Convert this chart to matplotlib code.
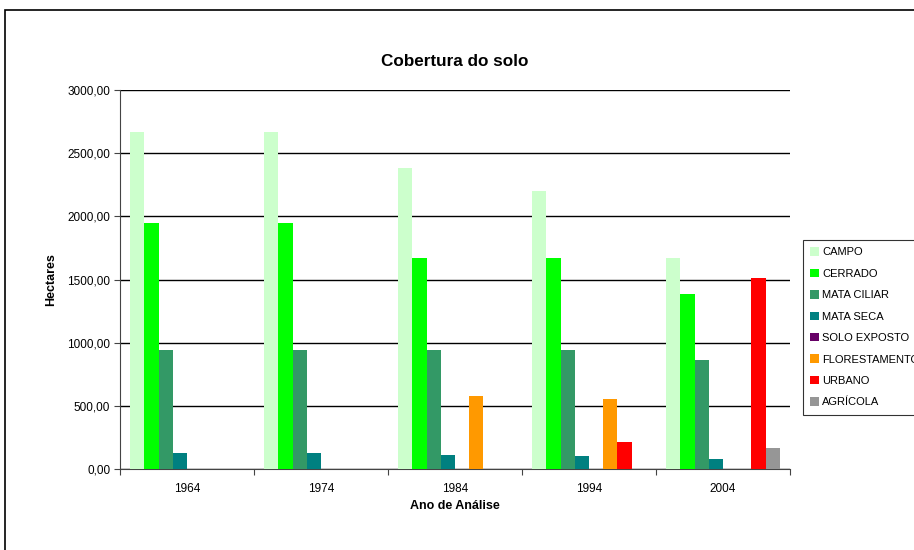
import numpy as np
import matplotlib
matplotlib.use("Agg")
import matplotlib.pyplot as plt
from matplotlib.patches import Rectangle
from matplotlib.ticker import FuncFormatter

plt.rcParams['font.family'] = ['Liberation Sans', 'DejaVu Sans']

anos = ["1964", "1974", "1984", "1994", "2004"]
series = ["CAMPO", "CERRADO", "MATA CILIAR", "MATA SECA", "SOLO EXPOSTO",
          "FLORESTAMENTO", "URBANO", "AGRÍCOLA"]
campo = [2667, 2667, 2382, 2200, 1670]
cerrado = [1945, 1945, 1670, 1670, 1385]
mata_ciliar = [942, 942, 942, 942, 863]
mata_seca = [129, 129, 111, 103, 79]
solo_exposto = [0, 0, 0, 0, 0]
florestamento = [0, 0, 578, 554, 0]
urbano = [0, 0, 0, 214, 1512]
agricola = [0, 0, 0, 0, 166]
valores = [campo, cerrado, mata_ciliar, mata_seca, solo_exposto,
           florestamento, urbano, agricola]
cores = ["#CCFFCC", "#00FF00", "#339966", "#008080", "#660066",
         "#FF9900", "#FF0000", "#969696"]

fig = plt.figure(figsize=(9.14, 5.5), dpi=100)
ax = fig.add_axes([120/914, 81/550, 670/914, 379/550])

# outer chart border
fig.patches.append(Rectangle((5/914, -0.1), 1.1, 540/550 + 0.1, transform=fig.transFigure,
                             fill=False, edgecolor="black", linewidth=1.2))

n = len(series)
w = 0.85 / n
x = np.arange(len(anos))
for i, (nome, vals, cor) in enumerate(zip(series, valores, cores)):
    ax.bar(x - 0.425 + w * (i + 0.5), vals, width=w, color=cor, label=nome,
           edgecolor="none", zorder=3)

ax.set_xlim(-0.5, len(anos) - 0.5)
ax.set_ylim(0, 3000)
ax.set_yticks(np.arange(0, 3001, 500))
ax.yaxis.set_major_formatter(FuncFormatter(lambda v, p: f"{v:.2f}".replace(".", ",")))
ax.yaxis.grid(True, color="black", linewidth=1.0, zorder=0)

ax.set_xticks(np.arange(-0.5, len(anos), 1.0))
ax.set_xticklabels([])
ax.set_xticks(x, minor=True)
ax.set_xticklabels(anos, minor=True)
ax.tick_params(axis="x", which="minor", length=0, labelsize=8.5, pad=10)
ax.tick_params(axis="x", which="major", length=4, color="#444444")
ax.tick_params(axis="y", length=4, labelsize=8.5, color="#444444", pad=3)

for s in ["top", "right"]:
    ax.spines[s].set_visible(False)
ax.spines["left"].set_color("#444444")
ax.spines["bottom"].set_color("#444444")

ax.set_title("Cobertura do solo", fontsize=12.3, fontweight="bold", pad=17)
ax.set_ylabel("Hectares", fontsize=9, fontweight="bold", labelpad=7)
ax.set_xlabel("Ano de Análise", fontsize=9, fontweight="bold", labelpad=4)

# legend sits against the right edge; the long label runs off the picture as in the original
leg = fig.legend(loc="upper left", bbox_to_anchor=(803/914, 1 - 240/550),
                 fontsize=8, frameon=True, fancybox=False, edgecolor="black",
                 handlelength=0.8, handleheight=0.8, handletextpad=0.25,
                 labelspacing=1.02, borderpad=0.65, borderaxespad=0)
leg.get_frame().set_linewidth(0.8)

fig.savefig("out.png", dpi=100)
